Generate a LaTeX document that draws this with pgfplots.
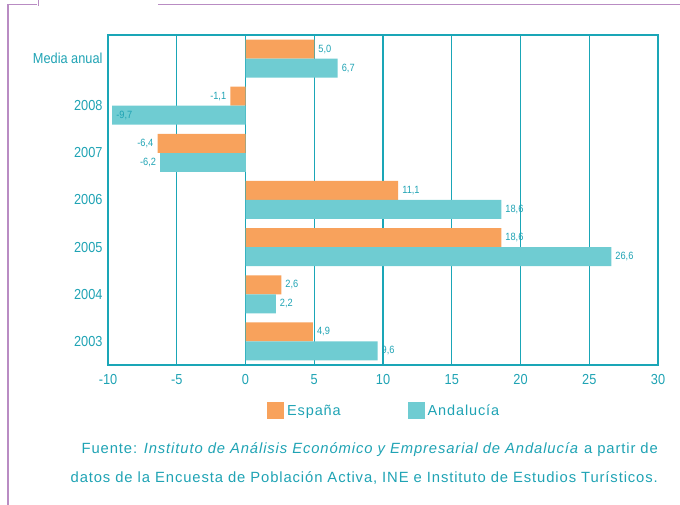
\documentclass[border=0pt]{standalone}
\usepackage{fontspec}
\setmainfont{Liberation Sans}[FakeStretch=0.88]
\newfontfamily\fuente{Liberation Sans}[LetterSpace=6]
\usepackage{pgfplots}
\pgfplotsset{compat=1.18}

\definecolor{naranja}{HTML}{F8A25C}
\definecolor{turquesa}{HTML}{6FCCD2}
\definecolor{textoazul}{HTML}{1FA3B4}
\definecolor{rejilla}{HTML}{1AA6B7}
\definecolor{marco}{HTML}{B98CC3}

\pgfplotsset{
  etiquetas/.style={
    point meta=x,
    nodes near coords={\pgfmathprintnumber[fixed,fixed zerofill,precision=1,use comma,assume math mode=true]{\pgfplotspointmeta}},
    nodes near coords style={anchor=#1, text=textoazul, font=\fontsize{10.5}{11}\selectfont, inner sep=4pt},
  },
}

\begin{document}
\begin{tikzpicture}
\useasboundingbox (0pt,0pt) rectangle (680pt,505pt);
% decorative frame
\draw[marco, line width=1.2pt] (8pt,0pt) -- (8pt,500.5pt) -- (37pt,500.5pt);
\draw[marco, line width=1pt] (38.5pt,505pt) -- (38.5pt,499pt);
\draw[marco, line width=1.2pt] (158pt,500.5pt) -- (680pt,500.5pt);

\begin{axis}[
  at={(108pt,140pt)}, anchor=south west,
  scale only axis, width=550pt, height=330pt,
  xbar, bar width=19pt,
  xmin=-10, xmax=30, ymin=-0.5, ymax=6.5,
  xtick={-10,-5,...,30}, ytick={0,...,6},
  yticklabels={2003,2004,2005,2006,2007,2008,Media anual},
  xmajorgrids, grid style={line width=1.3pt, rejilla},
  axis line style={line width=1.3pt, rejilla},
  major tick length=0pt,
  tick label style={text=textoazul, font=\fontsize{14.5}{15}\selectfont},
  xticklabel style={yshift=-6pt},
  yticklabel style={xshift=-2pt},
  /pgf/number format/assume math mode=true,
  legend style={at={(0.503,-0.139)}, anchor=center, draw=none, fill=none,
    font=\fuente\fontsize{14.5}{15}\selectfont, text=textoazul, legend columns=2,
    /tikz/every even column/.append style={column sep=64pt},
    nodes={inner sep=3pt}},
  legend image code/.code={\fill[#1,draw=none] (0pt,-8.5pt) rectangle (17pt,8.5pt);},
]
% y: 0 = 2003 ... 6 = Media anual
\addplot[draw=none, fill=naranja, bar shift=9.5pt, etiquetas=west] coordinates
  {(4.9,0) (2.6,1) (18.6,2) (11.1,3) (5.0,6)};
\addlegendentry{España}
\addplot[draw=none, fill=naranja, bar shift=9.5pt, etiquetas=east, forget plot] coordinates
  {(-6.4,4) (-1.1,5)};
\addplot[draw=none, fill=turquesa, bar shift=-9.5pt, etiquetas=west] coordinates
  {(9.6,0) (2.2,1) (26.6,2) (18.6,3) (-9.7,5) (6.7,6)};
\addlegendentry{Andalucía}
\addplot[draw=none, fill=turquesa, bar shift=-9.5pt, etiquetas=east, forget plot] coordinates
  {(-6.2,4)};
\end{axis}

\node[anchor=east, text=textoazul, font=\fuente\fontsize{14.8}{15}\selectfont, inner sep=0pt] at (658pt,55pt) {Fuente: \textit{Instituto de Análisis Económico y Empresarial de Andalucía} a partir de};
\node[anchor=east, text=textoazul, font=\fuente\fontsize{14.8}{15}\selectfont, inner sep=0pt] at (658pt,27pt) {datos de la Encuesta de Población Activa, INE e Instituto de Estudios Turísticos.};
\end{tikzpicture}
\end{document}
